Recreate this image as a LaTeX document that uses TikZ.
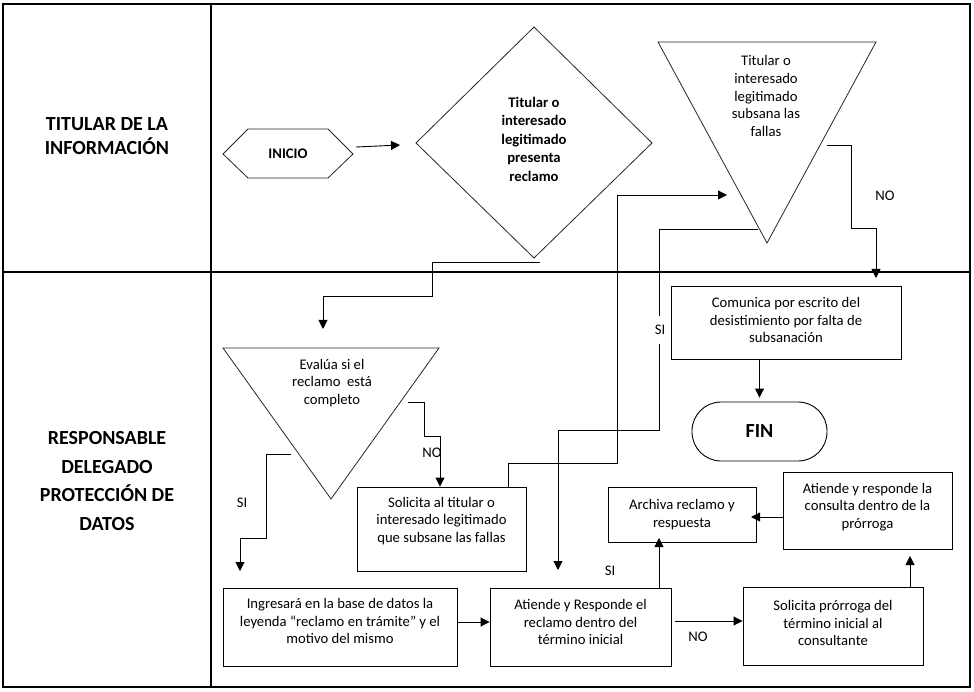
\documentclass[tikz,border=0pt]{standalone}
\usepackage{fontspec}
\setmainfont{Carlito}
\usetikzlibrary{arrows.meta}
\begin{document}
\begin{tikzpicture}[x=1pt,y=-1pt,
  frame/.style={line width=1.2pt},
  shp/.style={draw=black!85, line width=0.8pt},
  conn/.style={line width=0.9pt},
  arr/.style={conn,-{Triangle[length=9pt,width=9pt]}},
  boxn/.style={draw, line width=0.9pt, inner sep=0pt},
  txt/.style={align=center, inner sep=0pt, font=\fontsize{14.67}{17.6}\selectfont},
  btxt/.style={align=center, inner sep=0pt, font=\fontsize{14.67}{18.5}\selectfont\bfseries},
  lane/.style={align=center, inner sep=0pt, font=\fontsize{20}{#1}\selectfont\bfseries},
  lbl/.style={inner sep=1pt, font=\fontsize{14.67}{17.6}\selectfont}
]
\useasboundingbox (0,0) rectangle (974,692);
% frame and lanes
\draw[frame] (3,4) rectangle (970,687);
\draw[frame] (211,4) -- (211,687);
\draw[frame] (3,272) -- (970,272);
\node[lane=23.5] (lt) at (107,136) {TITULAR DE LA\\INFORMACIÓN};
\node[lane=28.7] (lr) at (107,481) {RESPONSABLE\\DELEGADO\\PROTECCIÓN DE\\DATOS};

% hexagon INICIO
\draw[shp] (223,154) -- (248,129) -- (328,129) -- (353,154) -- (328,178) -- (248,178) -- cycle;
\node[btxt] (ini) at (288,154) {INICIO};

% diamond
\draw[shp] (534,27) -- (652,143) -- (534,258) -- (416,143) -- cycle;
\node[btxt] (dia) at (534,139) {Titular o\\interesado\\legitimado\\presenta\\reclamo};

% triangle subsana
\draw[shp] (658,42) -- (876,42) -- (767,243) -- cycle;
\node[txt] (sub) at (766,96) {Titular o\\interesado\\legitimado\\subsana las\\fallas};

% triangle evalua
\draw[shp] (223,348) -- (439,348) -- (331,499) -- cycle;
\node[txt] (eva) at (332,383) {Evalúa si el\\reclamo\ \ está\\completo};

% boxes
\node[boxn, minimum width=230, minimum height=73] (com) at (786,322.5) {};
\node[txt] (comt) at (786,320) {Comunica por escrito del\\desistimiento por falta de\\subsanación};
\node[boxn, minimum width=135, minimum height=59, rounded corners=29pt] (fin) at (759.5,431.5) {};
\node[inner sep=0pt, font=\fontsize{20}{24}\selectfont\bfseries] (fint) at (759.5,431.5) {FIN};
\node[boxn, minimum width=169, minimum height=84] (sol) at (441.5,529) {};
\node[txt] (solt) at (441.5,521) {Solicita al titular o\\interesado legitimado\\que subsane las fallas};
\node[boxn, minimum width=234, minimum height=78] (ing) at (340,627) {};
\node[txt] (ingt) at (340,621) {Ingresará en la base de datos la\\leyenda “reclamo en trámite” y el\\motivo del mismo};
\node[boxn, minimum width=181, minimum height=78] (ate) at (580.5,627) {};
\node[txt] (atet) at (580.5,622) {Atiende y Responde el\\reclamo dentro del\\término inicial};
\node[boxn, minimum width=148, minimum height=55] (arc) at (682,514.5) {};
\node[txt] (arct) at (682,514.5) {Archiva reclamo y\\respuesta};
\node[boxn, minimum width=169, minimum height=77] (apr) at (867.5,510.5) {};
\node[txt] (aprt) at (867.5,507) {Atiende y responde la\\consulta dentro de la\\prórroga};
\node[boxn, minimum width=180, minimum height=78] (spr) at (833,626) {};
\node[txt] (sprt) at (833,623) {Solicita prórroga del\\término inicial al\\consultante};

% connector end points on shapes
\coordinate (hexE) at (356,147);
\coordinate (diaW) at (400,145);
\coordinate (diaS) at (540,262);
\coordinate (evaN) at (323,329);
\coordinate (evaNO) at (408,402);
\coordinate (evaSI) at (291,454);
\coordinate (subW) at (727,195);
\coordinate (subSI) at (758,229);
\coordinate (subNO) at (827,145);

% connectors
\draw[arr] (hexE) -- (diaW);
\draw[arr] (diaS) -- (432,262) -- (432,296) -- (323,296) -- (evaN);
\draw[arr] (evaNO) -- (424,402) -- (424,436) -- (440,436) -- (sol.north -| 440,0);
\node[lbl] (no1) at (432,453) {NO};
\draw[arr] (evaSI) -- (266,454) -- (266,538) -- (240,538) -- (240,571);
\node[lbl] (si1) at (242,503) {SI};
\draw[arr] (sol.north -| 508,0) -- (508,463) -- (617,463) -- (617,195) -- (subW);
\draw[arr] (subSI) -- (659,229) -- (659,430) -- (558,430) -- (558,570);
\node[lbl, fill=white, inner ysep=9pt] (si2) at (660,330) {SI};
\draw[arr] (subNO) -- (851,145) -- (851,228) -- (876,228) -- (876,278);
\node[lbl] (no2) at (885,196) {NO};
\draw[arr, shorten >=4pt] (com.south -| fin.north) -- (fin.north);
\draw[arr] (ing.east |- 0,622) -- (ate.west |- 0,622);
\draw[arr] (675,621) -- (spr.west |- 0,621);
\node[lbl] (no3) at (698,637) {NO};
\draw[arr] (ate.north -| 659,0) -- (659,538);
\node[lbl] (si3) at (610,571) {SI};
\draw[arr] (spr.north -| 910,0) -- (910,556);
\draw[arr] (apr.west |- 0,517) -- (751,517);
\end{tikzpicture}
\end{document}
